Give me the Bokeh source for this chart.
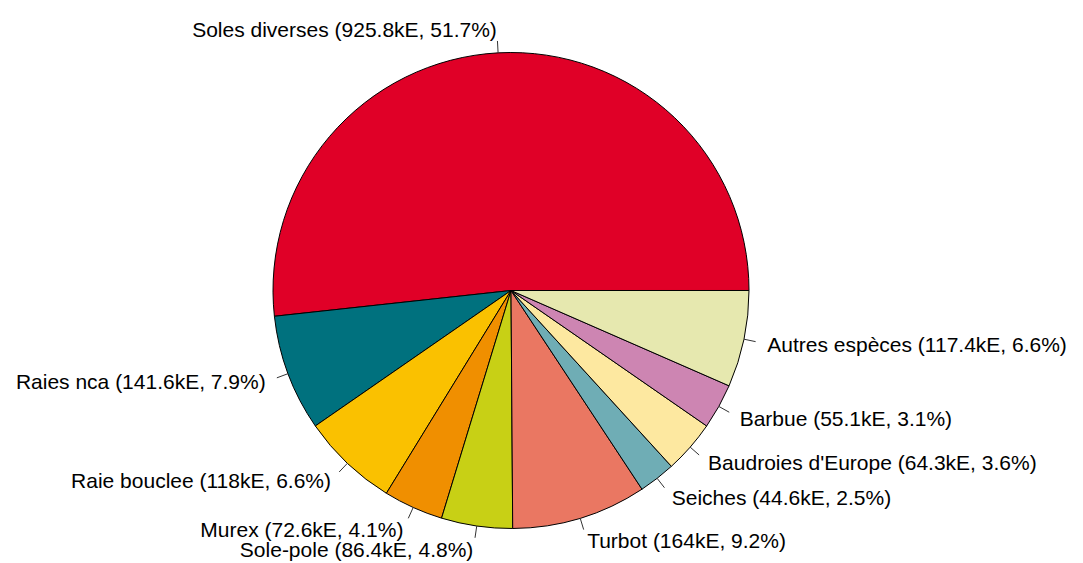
import math
from bokeh.plotting import figure
from bokeh.models import Range1d, ColumnDataSource
from bokeh.core.properties import value
from bokeh.embed import file_html
from bokeh.resources import INLINE

species = ["Soles diverses", "Raies nca", "Raie bouclee", "Murex", "Sole-pole",
           "Turbot", "Seiches", "Baudroies d'Europe", "Barbue", "Autres espèces"]
values_ke = [925.8, 141.6, 118, 72.6, 86.4, 164, 44.6, 64.3, 55.1, 117.4]
colors = ["#E00027", "#00717E", "#FAC100", "#F08F00", "#C8D015",
          "#EA7762", "#6FADB5", "#FDE8A0", "#CD85B2", "#E6E8AF"]

W, H = 1083, 563
cx, cy, R = 510.5, 563 - 290.0, 238.0

total = sum(values_ke)
starts, ends, mids = [], [], []
acc = 0.0
for v in values_ke:
    a0 = 2 * math.pi * acc / total
    acc += v
    a1 = 2 * math.pi * acc / total
    starts.append(a0); ends.append(a1); mids.append((a0 + a1) / 2)

def fmt(v):
    s = ("%.1f" % v)
    if s.endswith(".0"):
        s = s[:-2]
    return s

labels = ["%s (%skE, %.1f%%)" % (n, fmt(v), 100 * v / total) for n, v in zip(species, values_ke)]

p = figure(width=W, height=H, output_backend="svg", toolbar_location=None,
           x_range=Range1d(0, W), y_range=Range1d(0, H), min_border=0)
p.axis.visible = False
p.grid.visible = False
p.outline_line_color = None

src = ColumnDataSource(dict(start=starts, end=ends, color=colors))
p.wedge(x=cx, y=cy, radius=R, start_angle="start", end_angle="end", source=src,
        fill_color="color", line_color="black", line_width=1, direction="anticlock")

x0 = [cx + R * math.cos(m) for m in mids]
y0 = [cy + R * math.sin(m) for m in mids]
x1 = [cx + 1.05 * R * math.cos(m) for m in mids]
y1 = [cy + 1.05 * R * math.sin(m) for m in mids]
p.segment(x0=x0, y0=y0, x1=x1, y1=y1, line_color="#333333", line_width=1)

tx = [cx + 1.1 * R * math.cos(m) for m in mids]
ty = [cy + 1.1 * R * math.sin(m) for m in mids]
align = ["left" if math.cos(m) > 0 else "right" for m in mids]
tsrc = ColumnDataSource(dict(x=tx, y=ty, t=labels, a=align))
p.text(x="x", y="y", text="t", text_align="a", text_baseline="middle", source=tsrc,
       text_font=value("Liberation Sans"), text_font_size="21px", text_color="black")

open("out.html", "w").write(file_html(p, INLINE))
